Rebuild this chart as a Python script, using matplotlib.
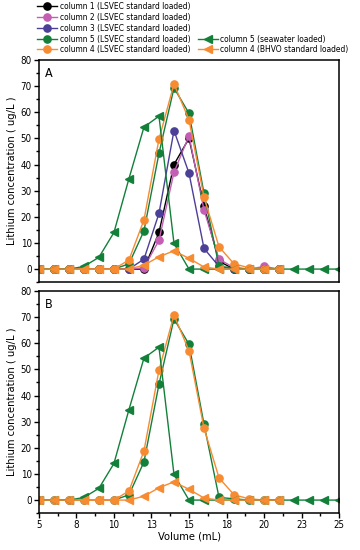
import matplotlib
matplotlib.use("Agg")
import matplotlib.pyplot as plt
from matplotlib.lines import Line2D
from matplotlib.ticker import MultipleLocator, FixedLocator

plt.rcParams['font.family'] = ['DejaVu Sans']
plt.rcParams['font.stretch'] = 'condensed'

volume = [5, 6, 7, 8, 9, 10, 11, 12, 13, 14, 15, 16, 17, 18, 19, 20, 21]
col1_lsvec = [0, 0, 0, 0, 0, 0, 0, 0, 14, 40, 50, 24, 3, 0, 0, 0, 0]
col2_lsvec = [0, 0, 0, 0, 0, 0, 0, 0.5, 11, 37, 51, 22.6, 3.8, 0.5, 0, 1, 0]
col3_lsvec = [0, 0, 0, 0, 0, 0, 0, 3.8, 21.3, 53, 36.7, 7.9, 1, 0, 0, 0, 0]
col5_lsvec = [0, 0, 0, 0, 0, 0, 2, 14.6, 44.3, 69.3, 59.6, 29, 1, 0.5, 0, 0, 0]
col4_lsvec = [0, 0, 0, 0, 0, 0, 3.5, 18.8, 49.7, 70.8, 57.1, 27.5, 8.5, 2, 0.5, 0, 0]
volume_sea = [5, 6, 7, 8, 9, 10, 11, 12, 13, 14, 15, 16, 17, 18, 19, 20, 21, 22, 23, 24, 25]
col5_seawater = [0, 0, 0, 1, 4.5, 14, 34.6, 54.3, 58.5, 9.8, 0, 0, 0, 0, 0, 0, 0, 0, 0, 0, 0]
col4_bhvo = [0, 0, 0, 0, 0, 0, 0, 1.5, 4.7, 7, 4.1, 0.8, 0, 0, 0, 0, 0]

x_ticks = [5, 7.5, 10, 12.5, 15, 17.5, 20, 22.5, 25]
x_tick_labels = ['5', '8', '10', '13', '15', '18', '20', '23', '25']
y_ticks = [0, 10, 20, 30, 40, 50, 60, 70, 80]

labels = ['column 1 (LSVEC standard loaded)', 'column 2 (LSVEC standard loaded)',
          'column 3 (LSVEC standard loaded)', 'column 5 (LSVEC standard loaded)',
          'column 4 (LSVEC standard loaded)', 'column 5 (seawater loaded)',
          'column 4 (BHVO standard loaded)']

BLACK = '#000000'
PINK = '#c45eb4'
PURPLE = '#4b3f98'
GREEN = '#13803a'
ORANGE = '#f78b32'

fig = plt.figure(figsize=(3.6, 5.5), dpi=100)
axA = fig.add_axes([0.108, 0.487, 0.834, 0.404])
axB = fig.add_axes([0.108, 0.067, 0.834, 0.404])

ms = 5.2
lw = 1.0


def draw(ax, full):
    handles = []
    if full:
        h1, = ax.plot(volume, col1_lsvec, '-o', color=BLACK, ms=ms, lw=lw)
        h2, = ax.plot(volume, col2_lsvec, '-o', color=PINK, ms=ms, lw=lw)
        h3, = ax.plot(volume, col3_lsvec, '-o', color=PURPLE, ms=ms, lw=lw)
        handles += [h1, h2, h3]
    h4, = ax.plot(volume, col5_lsvec, '-o', color=GREEN, ms=ms, lw=lw)
    h5, = ax.plot(volume, col4_lsvec, '-o', color=ORANGE, ms=ms, lw=lw)
    h6, = ax.plot(volume_sea, col5_seawater, '-<', color=GREEN, ms=ms, lw=lw)
    h7, = ax.plot(volume, col4_bhvo, '-<', color=ORANGE, ms=ms, lw=lw)
    handles += [h4, h5, h6, h7]
    ax.set_xlim(5, 25)
    ax.set_ylim(-5, 80)
    ax.yaxis.set_major_locator(FixedLocator(y_ticks))
    ax.yaxis.set_minor_locator(MultipleLocator(5))
    ax.xaxis.set_major_locator(FixedLocator(x_ticks))
    ax.xaxis.set_minor_locator(MultipleLocator(1.25))
    ax.tick_params(which='both', direction='out', top=False, right=False,
                   labelsize=7, width=1.0, pad=1.5)
    ax.tick_params(which='major', length=3.5)
    ax.tick_params(which='minor', length=2)
    for s in ax.spines.values():
        s.set_linewidth(1.1)
    ax.set_ylabel('Lithium concentration ( ug/L )', fontsize=8, labelpad=3)
    return handles


hA = draw(axA, True)
draw(axB, False)
axA.tick_params(axis='x', which='both', bottom=False, labelbottom=False)
axB.set_xticks(x_ticks)
axB.set_xticklabels(x_tick_labels)
axB.set_xlabel('Volume (mL)', fontsize=8, labelpad=1)
axA.text(0.02, 0.97, 'A', transform=axA.transAxes, ha='left', va='top', fontsize=9)
axB.text(0.02, 0.97, 'B', transform=axB.transAxes, ha='left', va='top', fontsize=9)

blank = Line2D([], [], linestyle='none', marker='none')
handles = hA[:5] + [blank, blank, blank] + hA[5:]
leg_labels = labels[:5] + ['', '', ''] + labels[5:]
fig.legend(handles, leg_labels, ncol=2, loc='upper left', bbox_to_anchor=(0.103, 0.997),
           frameon=False, fontsize=6.0, handlelength=2.4, handletextpad=0.25,
           labelspacing=0.22, columnspacing=0.9, borderaxespad=0.0, borderpad=0.05)

fig.savefig('out.png', dpi=100)
